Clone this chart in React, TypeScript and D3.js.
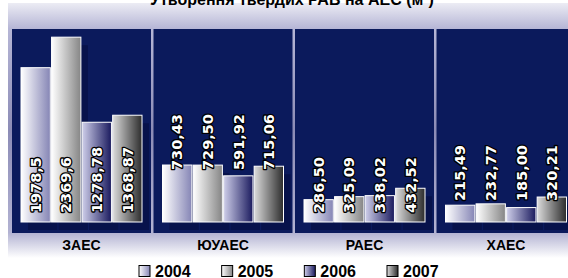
import * as d3 from 'd3';

// Утворення твердих РАВ на АЕС
const stations = ['ЗАЕС', 'ЮУАЕС', 'РАЕС', 'ХАЕС'];
const years = ['2004', '2005', '2006', '2007'];
const values2004 = [1978.5, 730.43, 286.5, 215.49];
const values2005 = [2369.6, 729.5, 325.09, 232.77];
const values2006 = [1278.78, 591.92, 338.02, 185.0];
const values2007 = [1368.87, 715.06, 432.52, 320.21];
const labels2004 = ['1978,5', '730,43', '286,50', '215,49'];
const labels2005 = ['2369,6', '729,50', '325,09', '232,77'];
const labels2006 = ['1278,78', '591,92', '338,02', '185,00'];
const labels2007 = ['1368,87', '715,06', '432,52', '320,21'];

const series = [values2004, values2005, values2006, values2007];
const seriesLabels = [labels2004, labels2005, labels2006, labels2007];

// how far above the baseline each station's labels sit (px)
const labelLift = [9, 52, 9, 21];

const fills = [
  ['#ffffff', '#8585b5'],
  ['#ffffff', '#858585'],
  ['#cfcfea', '#1a1a5e'],
  ['#dcdcdc', '#2c2c2c'],
];

const FONT = '"Liberation Sans", Arial, sans-serif';
const LABEL_FONT = '"DejaVu Sans", Verdana, sans-serif';

export default function App() {
  const width = 568;
  const height = 278;
  const baseY = 222;

  const x0 = d3.scaleBand<string>()
    .domain(stations)
    .range([12, 12 + 4 * 141.5 - 2.5])
    .paddingInner(2.5 / 141.5)
    .paddingOuter(0);

  const x1 = d3.scaleBand<string>()
    .domain(years)
    .range([9, 130])
    .paddingInner(0.04);

  const y = d3.scaleLinear().domain([0, 2500]).range([baseY, 27]);

  const legendX = d3.scalePoint<string>().domain(years).range([139, 387]);

  return (
    <svg width={width} height={height} style={{ position: 'absolute', left: 0, top: 0 }}>
      <defs>
        <linearGradient id="bg" x1="0" y1="0" x2="0" y2="1">
          <stop offset="0" stopColor="#ececf4" />
          <stop offset="0.1" stopColor="#b6b6d6" />
          <stop offset="0.5" stopColor="#8c8cb6" />
          <stop offset="0.9" stopColor="#b2b2d2" />
          <stop offset="1" stopColor="#ffffff" />
        </linearGradient>
        {fills.map((f, i) => (
          <linearGradient key={i} id={`g${i}`} x1="0" y1="0" x2="1" y2="0">
            <stop offset="0" stopColor={f[0]} />
            <stop offset="1" stopColor={f[1]} />
          </linearGradient>
        ))}
      </defs>

      <rect x={0} y={0} width={width} height={height} fill="#ffffff" />
      <rect x={8} y={3} width={width - 8} height={255} fill="url(#bg)" />

      <text x={292} y={5} textAnchor="middle" fontFamily={FONT} fontWeight="bold" fontSize={16} fill="#000">
        Утворення твердих РАВ на АЕС (м³)
      </text>

      {stations.map((s, si) => {
        const px = x0(s)!;
        return (
          <g key={s}>
            <rect x={px} y={29} width={x0.bandwidth()} height={204} fill="#0b1a5c" />
            {series.map((vals, k) => {
              const bx = px + x1(years[k])!;
              const top = y(vals[si]);
              return (
                <rect key={'s' + k} x={bx + 7} y={top + 8} width={x1.bandwidth()}
                  height={baseY - top} fill="#050f45" opacity={0.7} />
              );
            })}
            {series.map((vals, k) => {
              const bx = px + x1(years[k])!;
              const top = y(vals[si]);
              return (
                <rect key={'b' + k} x={bx} y={top} width={x1.bandwidth()}
                  height={baseY - top} fill={`url(#g${k})`} stroke="#ffffff" strokeWidth={1} />
              );
            })}
            {series.map((vals, k) => {
              const cx = px + x1(years[k])! + x1.bandwidth() / 2;
              const ly = baseY - labelLift[si];
              return (
                <text key={'l' + k} transform={`translate(${cx},${ly}) rotate(-90)`}
                  dy="0.36em" fontFamily={LABEL_FONT} fontWeight="bold" fontSize={14.5}
                  fill="#ffffff" stroke="#000000" strokeWidth={2.6} paintOrder="stroke"
                  strokeLinejoin="round">
                  {seriesLabels[k][si]}
                </text>
              );
            })}
            <text x={px + x0.bandwidth() / 2} y={250} textAnchor="middle"
              fontFamily={FONT} fontWeight="bold" fontSize={14} fill="#000">
              {s}
            </text>
          </g>
        );
      })}

      {years.map((yr, k) => {
        const lx = legendX(yr)!;
        return (
          <g key={yr}>
            <rect x={lx} y={265.5} width={11} height={11} fill={`url(#g${k})`} stroke="#000" strokeWidth={1} />
            <text x={lx + 16} y={277} fontFamily={FONT} fontWeight="bold" fontSize={16} fill="#000">
              {yr}
            </text>
          </g>
        );
      })}
    </svg>
  );
}
